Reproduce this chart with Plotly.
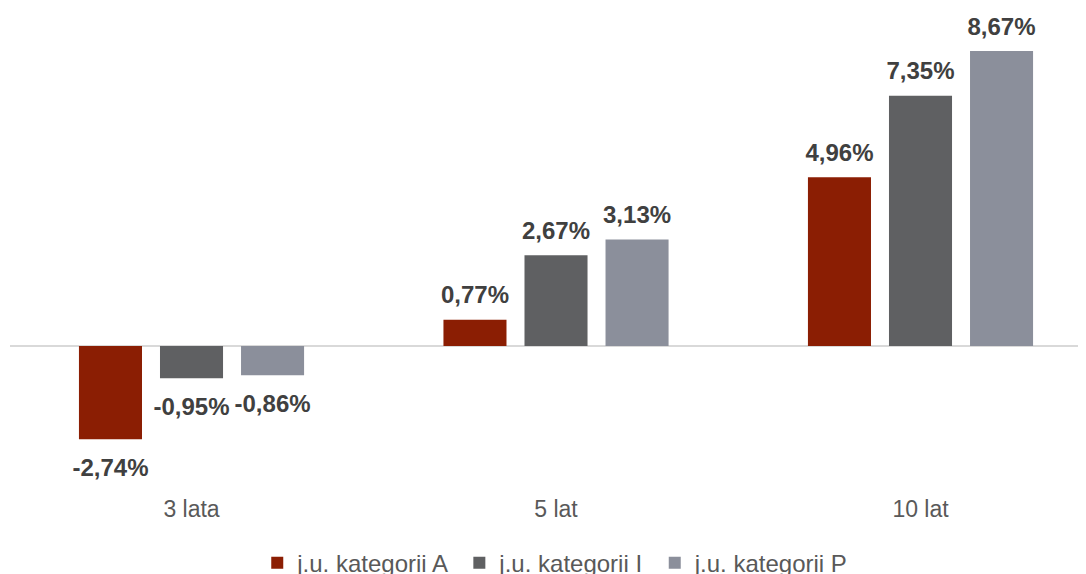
import plotly.graph_objects as go

categories = ["3 lata", "5 lat", "10 lat"]
series_names = ["j.u. kategorii A ", "j.u. kategorii I ", "j.u. kategorii P"]
values_A = [-2.74, 0.77, 4.96]
values_I = [-0.95, 2.67, 7.35]
values_P = [-0.86, 3.13, 8.67]
colors = ["#8B1E03", "#5F6062", "#8B8F9B"]

GAP = 0.333
FONT = "Liberation Sans, Arial, sans-serif"


def fmt(v):
    return "<b>" + f"{v:.2f}".replace(".", ",") + "%</b>"


fig = go.Figure()
all_vals = [values_A, values_I, values_P]
for name, vals, col in zip(series_names, all_vals, colors):
    fig.add_trace(go.Bar(
        x=categories, y=vals, name=name,
        marker=dict(color=col, line=dict(width=0)),
        hoverinfo="skip",
    ))

# data labels: invisible markers (size sets the gap to the bar end)
for name, vals in zip(series_names, all_vals):
    fig.add_trace(go.Scatter(
        x=categories, y=vals, mode="markers+text",
        text=[fmt(v) for v in vals],
        textposition=["top center" if v >= 0 else "bottom center" for v in vals],
        marker=dict(size=[15 if v >= 0 else 28 for v in vals], opacity=0),
        textfont=dict(family=FONT, size=24, color="#404040"),
        showlegend=False, hoverinfo="skip", cliponaxis=False,
    ))

fig.update_layout(
    width=1086, height=574,
    margin=dict(l=2, r=0, t=0, b=89, autoexpand=False),
    paper_bgcolor="white", plot_bgcolor="white",
    barmode="group", bargap=GAP, bargroupgap=0.222,
    scattermode="group", scattergap=GAP,
    font=dict(family=FONT, size=23, color="#595959"),
    xaxis=dict(range=[-0.498, 2.476], showline=False, showgrid=False, ticks="",
               zeroline=False, tickfont=dict(size=23, color="#595959")),
    yaxis=dict(range=[-4.320, 9.932], showticklabels=False, ticks="", showline=False,
               zeroline=True, zerolinecolor="#D9D9D9", zerolinewidth=1.5, showgrid=False),
    legend=dict(orientation="h", x=0.503, xanchor="center", y=-0.098, yanchor="top",
                font=dict(size=24, color="#595959"), itemwidth=30, traceorder="normal"),
    showlegend=True,
)

fig.write_html("out.html")
